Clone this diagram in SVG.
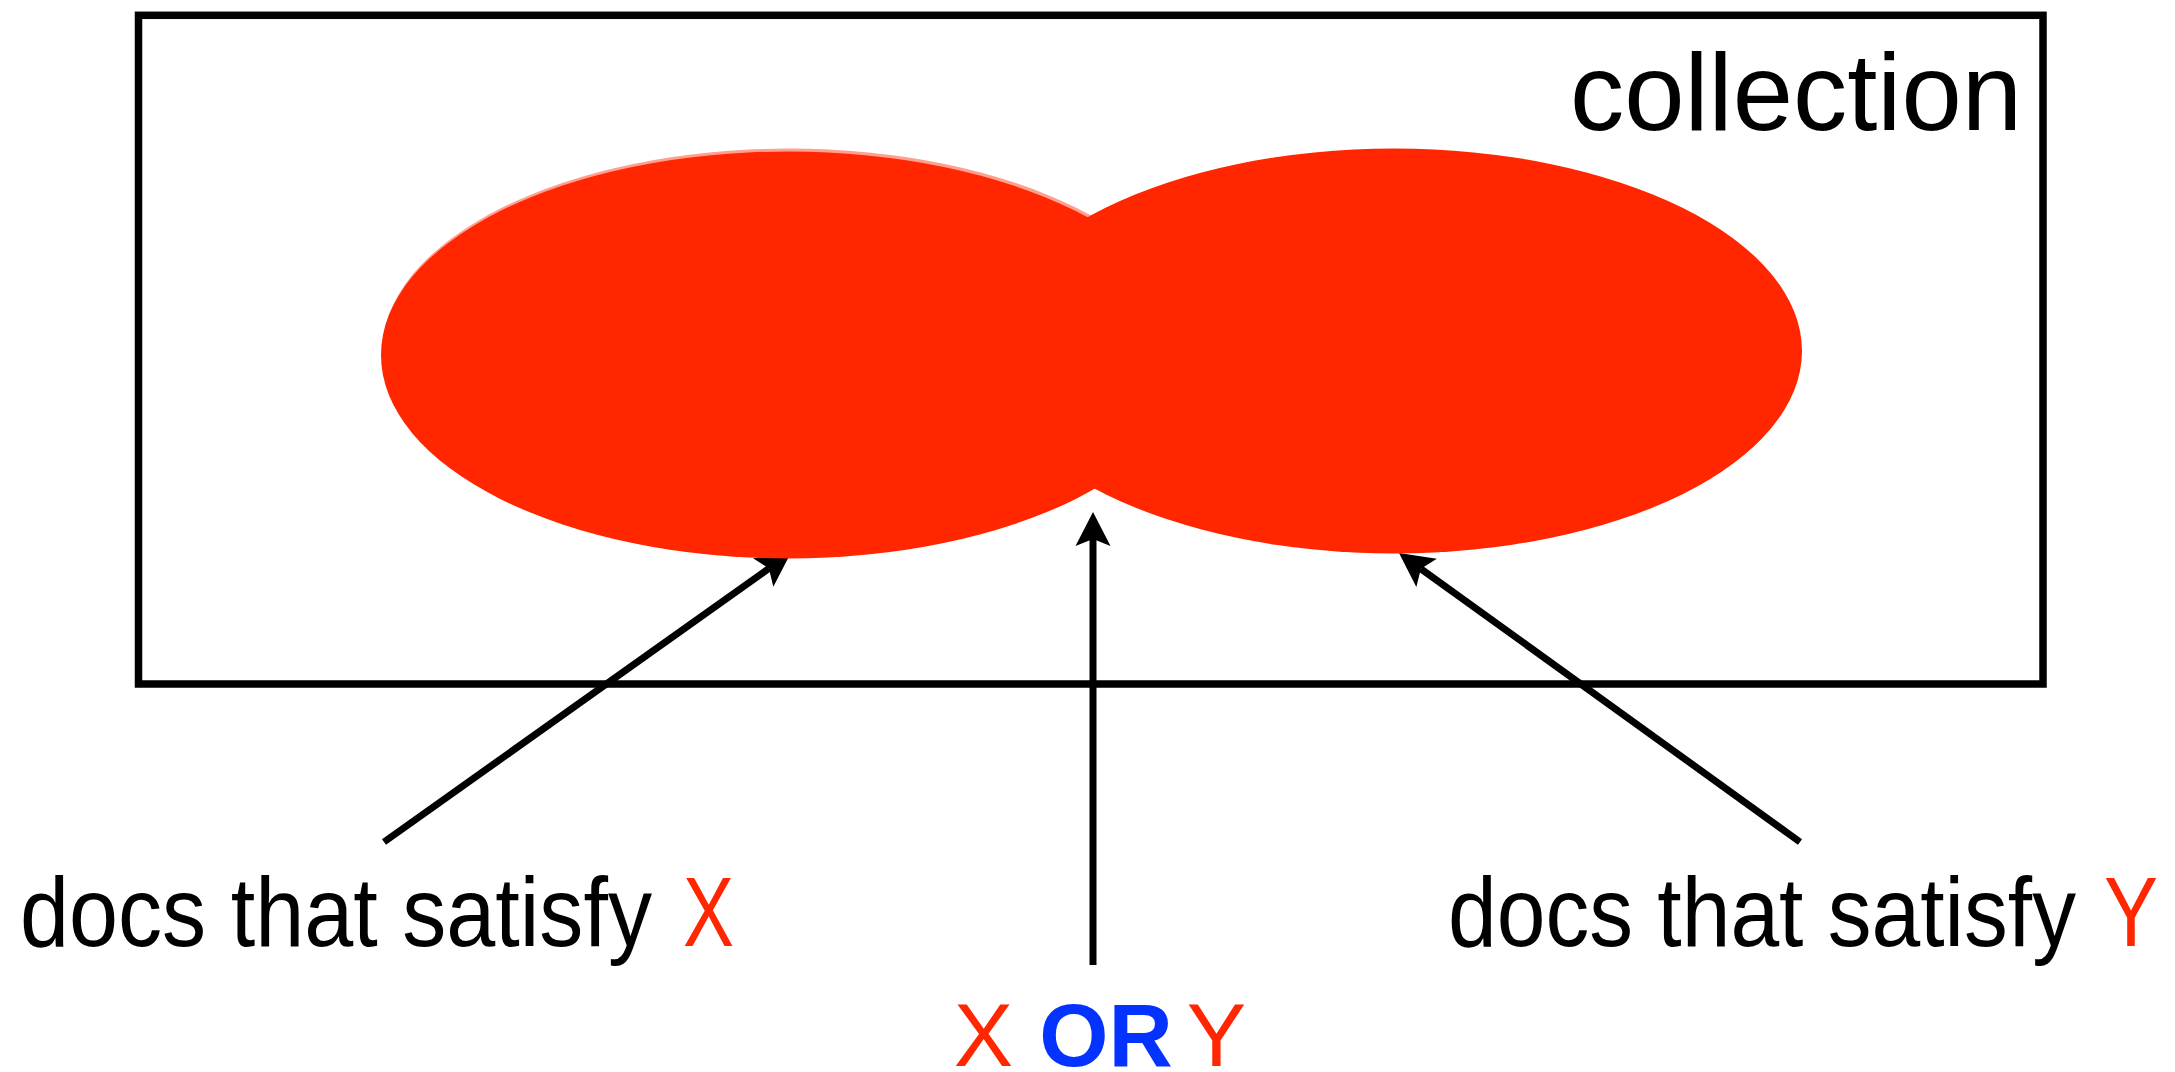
<svg xmlns="http://www.w3.org/2000/svg" width="2175" height="1072" viewBox="0 0 2175 1072">
  <defs>
    <marker id="arrow" markerUnits="userSpaceOnUse" markerWidth="40" markerHeight="40" viewBox="-10 -20 40 40" refX="0" refY="0" orient="auto">
      <path d="M27,0 L-7,-17.5 L0,0 L-7,17.5 Z" fill="#000"/>
    </marker>
  </defs>
  <style>
    .conn { stroke:#000; stroke-width:7; fill:none; marker-end:url(#arrow); }
    .set { fill:#FF2600; }
    .lbl { font-family:"Liberation Sans", Arial, sans-serif; fill:#000; }
    .red { fill:#FF2600; }
    .blue { fill:#0433FF; font-weight:bold; }
  </style>
  <rect width="2175" height="1072" fill="#fff"/>

  <g id="collection">
    <rect x="138.5" y="15.3" width="1904.5" height="668.7" fill="none" stroke="#000" stroke-width="7.5"/>
    <text class="lbl" x="1570" y="130" font-size="110" textLength="452" lengthAdjust="spacingAndGlyphs">collection</text>
  </g>

  <g id="connectors">
    <line class="conn" x1="384" y1="842" x2="768.9" y2="568.5"/>
    <line class="conn" x1="1093" y1="965" x2="1093" y2="539"/>
    <line class="conn" x1="1800" y1="842" x2="1420.9" y2="568.8"/>
  </g>

  <g id="setX">
    <ellipse cx="789" cy="352" rx="407" ry="203.5" fill="#FF9F8F"/>
    <ellipse class="set" cx="788" cy="355" rx="407" ry="203.5"/>
  </g>

  <g id="setY">
    <ellipse class="set" cx="1394" cy="351" rx="408" ry="202.5"/>
  </g>

  <g id="labelX">
    <text class="lbl" x="20" y="946" font-size="98" textLength="632" lengthAdjust="spacingAndGlyphs">docs that satisfy</text>
    <text class="lbl red" x="683" y="946" font-size="98" textLength="51" lengthAdjust="spacingAndGlyphs">X</text>
  </g>

  <g id="labelY">
    <text class="lbl" x="1448" y="946" font-size="98" textLength="628" lengthAdjust="spacingAndGlyphs">docs that satisfy</text>
    <text class="lbl red" x="2104" y="946" font-size="98" textLength="54" lengthAdjust="spacingAndGlyphs">Y</text>
  </g>

  <g id="labelOr">
    <text class="lbl red" x="983.5" y="1066" font-size="89" text-anchor="middle">X</text>
    <text class="lbl blue" x="1106" y="1066" font-size="89" text-anchor="middle">OR</text>
    <text class="lbl red" x="1216.5" y="1066" font-size="89" text-anchor="middle">Y</text>
  </g>
</svg>
